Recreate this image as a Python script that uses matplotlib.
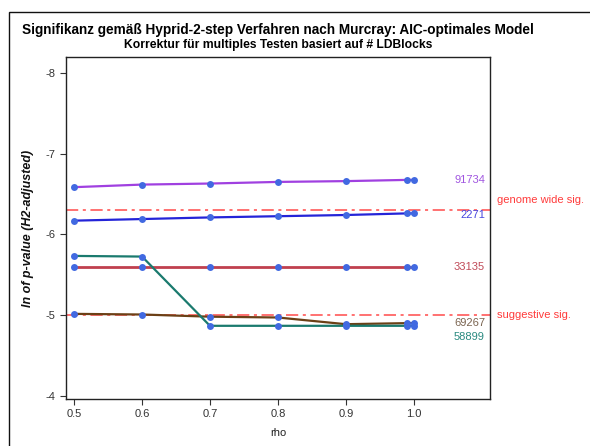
import matplotlib
matplotlib.use("Agg")
import matplotlib.pyplot as plt
from matplotlib.patches import Rectangle

plt.rcParams["font.family"] = ["Liberation Sans", "DejaVu Sans"]
plt.rcParams["axes.unicode_minus"] = False

# rho grid and ln(p) series per LD block
rho = [0.5, 0.6, 0.7, 0.8, 0.9, 0.99, 1.0]
s_91734 = [-6.585, -6.617, -6.63, -6.65, -6.66, -6.675, -6.675]
s_2271 = [-6.17, -6.19, -6.21, -6.225, -6.24, -6.26, -6.26]
s_33135 = [-5.60, -5.60, -5.60, -5.60, -5.60, -5.60, -5.60]
s_69267 = [-5.015, -5.007, -4.98, -4.97, -4.887, -4.90, -4.90]
s_58899 = [-5.733, -5.725, -4.867, -4.867, -4.867, -4.867, -4.867]

series_names = ["91734", "2271", "33135", "69267", "58899"]
series_values = [s_91734, s_2271, s_33135, s_69267, s_58899]
line_colors = ["#a040e0", "#2424d8", "#c0404e", "#6b4016", "#1a7a6e"]
line_widths = [1.6, 1.6, 2.0, 1.6, 1.6]
label_colors = ["#a055e0", "#4848e0", "#c04a58", "#7a6450", "#2a8a80"]
label_offsets = [0, -1, 0, 0, -8]

genome_wide = -6.3
suggestive = -5.0

x_ticks = [0.5, 0.6, 0.7, 0.8, 0.9, 1.0]
x_ticklabels = ["0.5", "0.6", "0.7", "0.8", "0.9", "1.0"]
y_ticks = [-8, -7, -6, -5, -4]

fig = plt.figure(figsize=(5.9, 4.46), dpi=100)
fig.patches.append(Rectangle((9 / 590, -0.05), 1.0, 1 - 12 / 446 + 0.05,
                             transform=fig.transFigure, fill=False,
                             edgecolor="#111111", linewidth=1.0))

ax = fig.add_axes([66 / 590, 1 - 399 / 446, (490 - 66) / 590, (399 - 57) / 446])

for vals, lc, lw in zip(series_values, line_colors, line_widths):
    ax.plot(rho, vals, color=lc, linewidth=lw, zorder=3)
for vals in series_values:
    ax.plot(rho, vals, linestyle="none", marker="o", markersize=5,
            color="#4169e1", markeredgewidth=0, zorder=4)

ax.axhline(genome_wide, color="#ff4a4a", linestyle=(0, (8, 3, 2, 3)), linewidth=1.1, zorder=2)
ax.axhline(suggestive, color="#ff4a4a", linestyle=(0, (8, 3, 2, 3)), linewidth=1.1, zorder=2)

for name, vals, c, off in zip(series_names, series_values, label_colors, label_offsets):
    ax.annotate(name, xy=(0.988, vals[-1]), xycoords=("axes fraction", "data"),
                xytext=(0, off), textcoords="offset points",
                ha="right", va="center", fontsize=8, color=c)

ax.annotate("genome wide sig.", xy=(1.0, genome_wide), xycoords=("axes fraction", "data"),
            xytext=(5, 7), textcoords="offset points", ha="left", va="center",
            fontsize=8, color="#ff3b3b", annotation_clip=False)
ax.annotate("suggestive sig.", xy=(1.0, suggestive), xycoords=("axes fraction", "data"),
            xytext=(5, 0), textcoords="offset points", ha="left", va="center",
            fontsize=8, color="#ff3b3b", annotation_clip=False)

ax.set_xlim(0.488, 1.1124)
ax.set_ylim(-3.96, -8.198)
ax.set_xticks(x_ticks)
ax.set_xticklabels(x_ticklabels)
ax.set_yticks(y_ticks)
ax.tick_params(axis="both", labelsize=8, colors="#333333", length=4, width=0.8)
for sp in ax.spines.values():
    sp.set_color("#222222")
    sp.set_linewidth(1.0)

ax.set_xlabel("rho", fontsize=8, color="#222222", labelpad=6)
ax.set_ylabel("ln of p-value (H2-adjusted)", fontsize=9, fontweight="bold",
              fontstyle="italic", color="#111111", labelpad=8)

fig.text(278 / 590, 1 - 30 / 446, "Signifikanz gemäß Hyprid-2-step Verfahren nach Murcray: AIC-optimales Model",
         ha="center", va="center", fontsize=9.8, fontweight="bold", color="#000000")
fig.text(278 / 590, 1 - 45 / 446, "Korrektur für multiples Testen basiert auf # LDBlocks",
         ha="center", va="center", fontsize=8.7, fontweight="bold", color="#000000")

fig.savefig("out.png", dpi=100)
